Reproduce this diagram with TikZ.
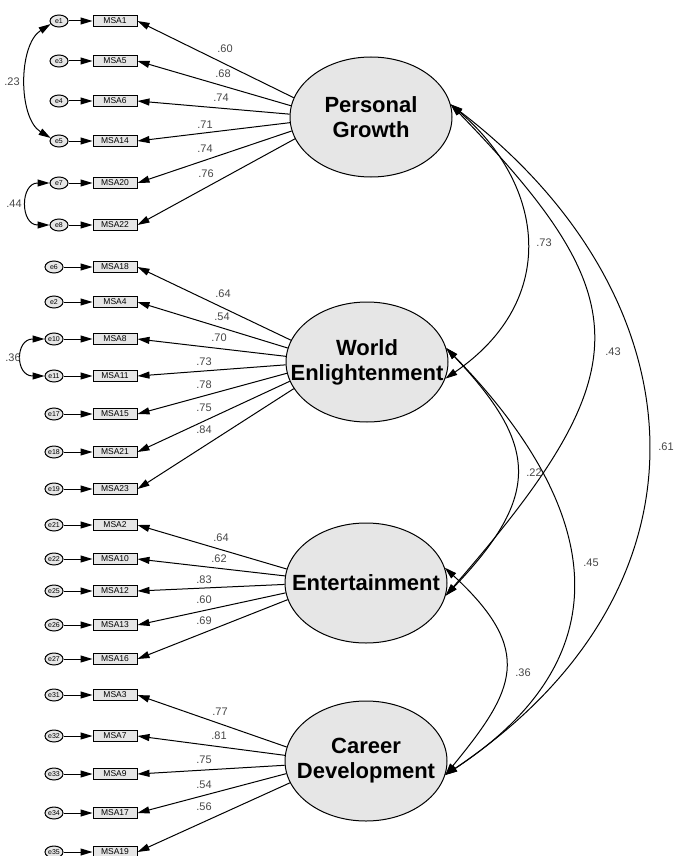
\documentclass[tikz,border=0pt]{standalone}
\usepackage{fontspec}
\setmainfont{Liberation Sans}
\usetikzlibrary{arrows.meta,shapes.geometric}
\definecolor{fillgray}{RGB}{230,230,230}
\definecolor{labgray}{RGB}{70,70,70}
\begin{document}
\begin{tikzpicture}[x=1pt,y=-1pt,
 factor/.style={ellipse,draw,line width=1pt,fill=fillgray,minimum width=162pt,minimum height=120pt,inner sep=0pt},
 ftext/.style={align=center,inner sep=0pt,font=\fontsize{22}{25}\selectfont\bfseries},
 indic/.style={rectangle,draw,line width=1pt,fill=fillgray,minimum width=44pt,minimum height=10.5pt,inner sep=0pt,font=\fontsize{8.5}{9}\selectfont},
 err/.style={ellipse,draw,line width=1pt,fill=fillgray,minimum width=18pt,minimum height=12pt,inner sep=0pt,font=\fontsize{7}{7}\selectfont},
 arr/.style={line width=1pt,-{Triangle[length=12pt,width=7pt]}},
 dbl/.style={line width=1pt,{Triangle[length=12pt,width=7pt]}-{Triangle[length=12pt,width=7pt]}},
 ld/.style={font=\fontsize{11}{11}\selectfont,text=labgray,inner sep=0pt}]
\useasboundingbox (0,0) rectangle (675,856);

% factors
\node[factor] (PG) at (371,117) {};
\node[factor] (WE) at (367,362) {};
\node[factor] (EN) at (366,583) {};
\node[factor] (CD) at (366,761) {};
\node[ftext] (tPG) at (PG.center) {Personal\\Growth};
\node[ftext] (tWE) at (WE.center) {World\\Enlightenment};
\node[ftext] (tEN) at (EN.center) {Entertainment};
\node[ftext] (tCD) at (CD.center) {Career\\Development};

% error terms and indicators
\foreach \en/\mn/\yy/\xx [count=\i] in {
 e1/MSA1/21/59, e3/MSA5/61/59, e4/MSA6/101/59, e5/MSA14/141/59, e7/MSA20/183/59, e8/MSA22/225/59,
 e6/MSA18/267/54, e2/MSA4/302/54, e10/MSA8/339/54, e11/MSA11/376/54, e17/MSA15/414/54, e18/MSA21/452/54, e19/MSA23/489/54,
 e21/MSA2/525/54, e22/MSA10/559/54, e25/MSA12/591/54, e26/MSA13/625/54, e27/MSA16/659/54,
 e31/MSA3/695/54, e32/MSA7/736/54, e33/MSA9/774/54, e34/MSA17/813/54, e35/MSA19/852/54}{
  \node[err] (e\i) at (\xx,\yy) {\en};
  \node[indic] (m\i) at (115,\yy) {\mn};
  \draw[arr] (e\i) -- (m\i);
}

% loadings
\foreach \i/\a in {1/166,2/172,3/178,4/184,5/190,6/196}
  \draw[arr] (PG.\a) -- (m\i.east);
\foreach \i/\a in {7/164,8/170,9/176,10/182,11/188,12/194,13/200}
  \draw[arr] (WE.\a) -- (m\i.east);
\foreach \i/\a in {14/170,15/175,16/181,17/187,18/192}
  \draw[arr] (EN.\a) -- (m\i.east);
\foreach \i/\a in {19/170,20/176,21/183,22/189,23/196}
  \draw[arr] (CD.\a) -- (m\i.east);

% loading labels
\foreach \t/\x/\y [count=\i] in {
 .60/225/49, .68/223/74, .74/221/98, .71/205/125, .74/205/149, .76/206/174,
 .64/223/294, .54/222/317, .70/219/338, .73/204/362, .78/204/385, .75/204/408, .84/204/430,
 .64/221/538, .62/219/559, .83/204/580, .60/204/600, .69/204/621,
 .77/220/712, .81/219/736, .75/204/760, .54/204/785, .56/204/807}
  \node[ld] (l\i) at (\x,\y) {\t};

% factor covariances
\draw[dbl] (PG.9) .. controls (545,185) and (560,300) .. (WE.-12);
\draw[dbl] (PG.9) .. controls (640,300) and (642,370) .. (EN.-9);
\draw[dbl] (PG.9) .. controls (700,295) and (728,585) .. (CD.-10);
\draw[dbl] (WE.10) .. controls (538,445) and (542,495) .. (EN.-9);
\draw[dbl] (WE.10) .. controls (575,480) and (650,640) .. (CD.-10);
\draw[dbl] (EN.11) .. controls (535,651) and (515,690) .. (CD.-10);
\node[ld] (c1) at (544,243) {.73};
\node[ld] (c2) at (613,352) {.43};
\node[ld] (c3) at (666,447) {.61};
\node[ld] (c4) at (534,473) {.22};
\node[ld] (c5) at (591,563) {.45};
\node[ld] (c6) at (523,673) {.36};

% error covariances
\draw[dbl] (e1.200) .. controls (18,45) and (18,118) .. (e4.160);
\draw[dbl] (e5.west) .. controls (20,183) and (20,225) .. (e6.west);
\draw[dbl] (e9.west) .. controls (15,339) and (15,376) .. (e10.west);
\node[ld] (c7) at (12,82) {.23};
\node[ld] (c8) at (14,204) {.44};
\node[ld] (c9) at (13,358) {.36};
\end{tikzpicture}
\end{document}
